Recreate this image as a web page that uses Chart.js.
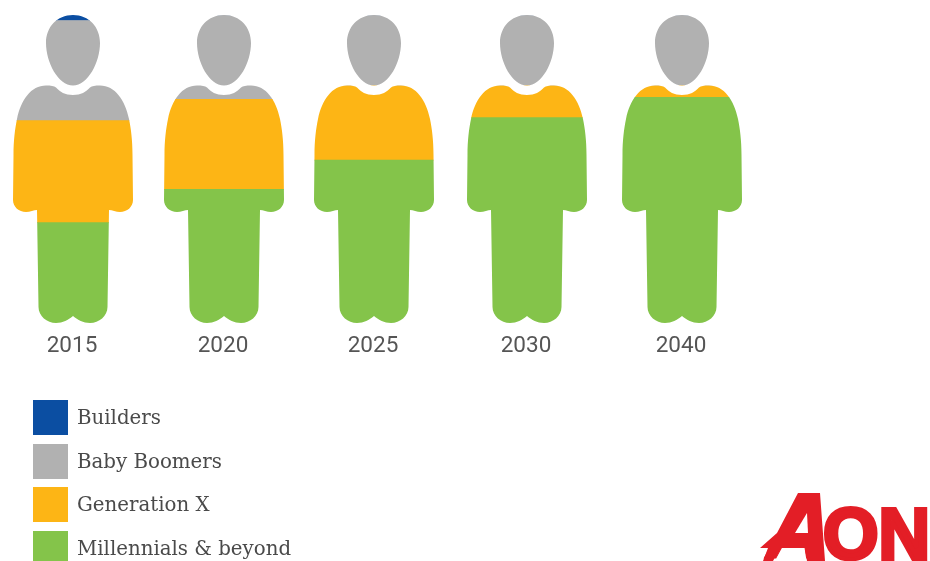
<!DOCTYPE html>
<html>
<head>
<meta charset="utf-8">
<title>Workforce generations</title>
<script src="https://cdn.jsdelivr.net/npm/chart.js@4/dist/chart.umd.js"></script>
<style>
  html, body { margin: 0; padding: 0; background: #fff; }
  #page { position: relative; width: 930px; height: 561px; overflow: hidden; }
  #chart { position: absolute; left: 0; top: 0; }
  #legend { position: absolute; left: 33px; top: 400px; margin: 0; padding: 0; list-style: none; }
  #legend li { display: flex; align-items: center; height: 35px; margin-bottom: 8.5px; }
  #legend i { width: 35px; height: 35px; margin-right: 9px; }
  #legend span { font: 19.8px "DejaVu Serif", serif; color: #4a4a4a; white-space: nowrap; }
  #logo { position: absolute; left: 740px; top: 480px; }
</style>
</head>
<body>
<div id="page">
  <canvas id="chart" width="930" height="561"></canvas>
  <ul id="legend"></ul>
  <svg id="logo" width="190" height="81" viewBox="0 0 190 81">
    <g fill="#e31e26" stroke="#e31e26" font-family="Liberation Sans" font-weight="700">
      <text x="26" y="78" font-size="80" font-style="italic" stroke-width="1">A</text>
      <polygon points="58,13 80,13 85,81 67,81 65,68 40,68 33,81 23,81 28,68 20,68 37,53" stroke="none"/>
      <polygon points="55,53 67,33 68,53" fill="#fff" stroke="none"/>
      <text x="83" y="79" font-size="72" stroke-width="4" textLength="107" lengthAdjust="spacingAndGlyphs">ON</text>
    </g>
  </svg>
</div>
<script>
const years = ["2015", "2020", "2025", "2030", "2040"];
const millennials = [32.6, 43.4, 52.9, 66.7, 73.3];
const generationX = [33.1, 29.2, 24.2, 10.4, 3.8];
const babyBoomers = [32.5, 27.4, 22.9, 22.9, 22.9];
const builders = [1.8, 0, 0, 0, 0];

const seriesNames = ["Millennials & beyond", "Generation X", "Baby Boomers", "Builders"];
const seriesColors = ["#84c44a", "#fdb515", "#b1b1b1", "#0b4ea2"];

// figures are not spaced quite evenly along the axis
const figureNudge = [0, -1, -3, -2, 1];

class FigureScale extends Chart.CategoryScale {
  getPixelForValue(value) {
    const index = typeof value === "number" ? value : this.parse(value);
    return super.getPixelForValue(value) + (figureNudge[index] || 0);
  }
}
FigureScale.id = "figure";
FigureScale.defaults = Chart.CategoryScale.defaults;
Chart.register(FigureScale);

// person outline, origin at the top of the head, 308 units tall
const figureOutline = new Path2D(
  "M0,0 C16,0 27,12 27,28 C27,47 15,70.5 0,70.5 C-15,70.5 -27,47 -27,28 C-27,12 -16,0 0,0 Z " +
  "M0,80 C8,80 13,77 17,72.5 C19,71 22,70.5 27,70.5 C42,70.5 52,85 56,104 C58,114 59.5,125 59.5,140 " +
  "L60,185 C60,192 54,197 47,197 C43,197 39,195 36,195 L34.5,292 C34.5,301 26,308 17,308 C10,308 5,305 0,301 " +
  "C-5,305 -10,308 -17,308 C-26,308 -34.5,301 -34.5,292 L-36,195 C-39,195 -43,197 -47,197 C-54,197 -60,192 -60,185 " +
  "L-59.5,140 C-59.5,125 -58,114 -56,104 C-52,85 -42,70.5 -27,70.5 C-22,70.5 -19,71 -17,72.5 C-13,77 -8,80 0,80 Z"
);

// clips the stacked bars to the person outline
const figureClip = {
  id: "figureClip",
  beforeDatasetsDraw(chart) {
    const { ctx, scales } = chart;
    const top = scales.y.getPixelForValue(100);
    const k = (scales.y.getPixelForValue(0) - top) / 308;
    const all = new Path2D();
    years.forEach((year, i) => {
      const cx = scales.x.getPixelForValue(i) + 1;
      all.addPath(figureOutline, new DOMMatrix().translate(cx, top).scale(k));
    });
    ctx.save();
    ctx.clip(all);
  },
  afterDatasetsDraw(chart) {
    chart.ctx.restore();
  },
};

const seriesValues = [millennials, generationX, babyBoomers, builders];

new Chart(document.getElementById("chart"), {
  type: "bar",
  plugins: [figureClip],
  data: {
    labels: years,
    datasets: seriesNames.map((name, i) => ({
      label: name,
      data: seriesValues[i],
      backgroundColor: seriesColors[i],
      borderWidth: 0,
      barThickness: 130,
      clip: false,
    })),
  },
  options: {
    responsive: false,
    animation: false,
    layout: { padding: { left: 72, right: 250, top: 15, bottom: 191 } },
    plugins: { legend: { display: false }, tooltip: { enabled: false } },
    scales: {
      x: {
        type: "figure",
        stacked: true,
        offset: false,
        grid: { display: false, drawTicks: false },
        border: { display: false },
        ticks: {
          color: "#555",
          font: { family: "Roboto", size: 22.5 },
          padding: 10,
          maxRotation: 0,
          autoSkip: false,
        },
        afterFit(scale) {
          scale.paddingLeft = 0;
          scale.paddingRight = 0;
        },
      },
      y: { stacked: true, display: false, min: 0, max: 100 },
    },
  },
});

// legend runs top to bottom, opposite to the stacking order
const legend = document.getElementById("legend");
seriesNames.slice().reverse().forEach((name, i) => {
  const item = document.createElement("li");
  const swatch = document.createElement("i");
  swatch.style.background = seriesColors[seriesColors.length - 1 - i];
  const label = document.createElement("span");
  label.textContent = name;
  item.append(swatch, label);
  legend.append(item);
});
</script>
</body>
</html>
